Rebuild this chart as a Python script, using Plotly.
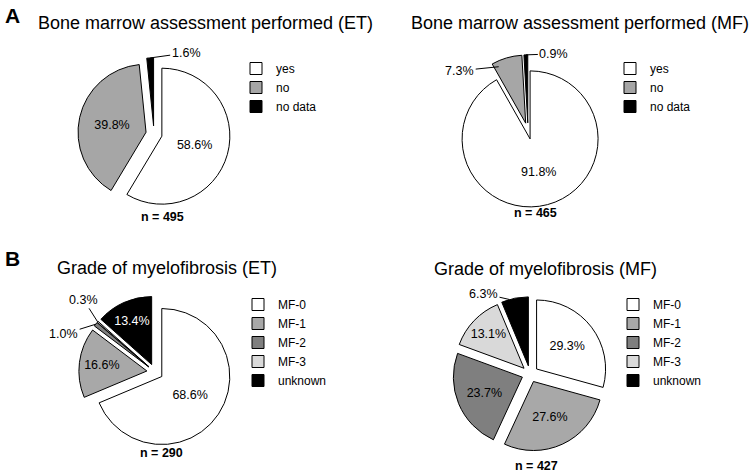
import math
import plotly.graph_objects as go

# ---------------- data ----------------
bm_labels = ["yes", "no", "no data"]
bm_et_values = [58.6, 39.8, 1.6]
bm_mf_values = [91.8, 7.3, 0.9]

grade_labels = ["MF-0", "MF-1", "MF-2", "MF-3", "unknown"]
grade_et_values = [68.6, 16.6, 1.0, 0.3, 13.4]
grade_mf_values = [29.3, 27.6, 23.7, 13.1, 6.3]

titles = ["Bone marrow assessment performed (ET)",
          "Bone marrow assessment performed (MF)",
          "Grade of myelofibrosis (ET)",
          "Grade of myelofibrosis (MF)"]
n_values = [495, 465, 290, 427]
panel_letters = ["A", "B"]

bm_colors = ["#ffffff", "#a6a6a6", "#000000"]
grade_colors = ["#ffffff", "#a8a8a8", "#7f7f7f", "#d9d9d9", "#000000"]

# ---------------- layout helpers ----------------
W, H = 749, 473
FONT = "Liberation Sans, Arial, sans-serif"
PULL = 0.12
ROW = 19  # plotly legend row height


def fx(x):
    return x / W


def fy(y):
    return 1 - y / H


# per-pie placement (pixels): centre, radius, title pos, n pos, legend pos
# outside: index -> (anchor position in slice fraction, radius factor, text dx, text dy)
pies = [
    dict(labels=bm_labels, values=bm_et_values, colors=bm_colors,
         cx=154, cy=134, r=68, title=(205, 23), n=(162, 217),
         legend=(250, 85), outside={2: (0.5, 1.0, 36, -5)}),
    dict(labels=bm_labels, values=bm_mf_values, colors=bm_colors,
         cx=528, cy=131, r=68, title=(580, 23), n=(535, 213),
         legend=(624, 85), outside={2: (0.5, 1.0, 28, -1),
                                    1: (0.15, 0.92, -39, 4)}),
    dict(labels=grade_labels, values=grade_et_values, colors=grade_colors,
         cx=155, cy=372, r=68, title=(167, 268), n=(161, 453),
         legend=(252, 340), outside={2: (0.5, 1.0, -32, 10),
                                     3: (0.5, 1.0, -14, -22)}),
    dict(labels=grade_labels, values=grade_mf_values, colors=grade_colors,
         cx=530, cy=374, r=69, title=(545, 269), n=(536, 466),
         legend=(627, 340), outside={4: (0.3, 1.0, -26, -6)}),
]

fig = go.Figure()
annotations = []
legends = {}

for i, p in enumerate(pies):
    vals = p["values"]
    total = sum(vals)
    S = 2 * p["r"] * (1 + PULL)
    dom_x = [fx(p["cx"] - S / 2), fx(p["cx"] + S / 2)]
    dom_y = [fy(p["cy"] + S / 2), fy(p["cy"] - S / 2)]
    texts = ["" if k in p["outside"] else f"{v:.1f}%" for k, v in enumerate(vals)]
    txtcol = ["#ffffff" if c == "#000000" else "#000000" for c in p["colors"]]
    lg = "legend" if i == 0 else f"legend{i + 1}"
    # pies sharing label names would share one legend entry; keep them distinct
    labels = [lab + "\u200b" * (i % 2) for lab in p["labels"]]
    fig.add_trace(go.Pie(
        labels=labels, values=vals, sort=False, direction="clockwise",
        rotation=0, pull=PULL, text=texts, textinfo="text",
        textposition="inside", insidetextorientation="horizontal",
        insidetextfont=dict(family=FONT, size=12.5, color=txtcol),
        marker=dict(colors=p["colors"], line=dict(color="#000000", width=1)),
        domain=dict(x=dom_x, y=dom_y), hoverinfo="label+value",
        legend=lg, showlegend=True,
    ))
    nrows = len(vals)
    top = p["legend"][1] - (nrows - 1) * ROW / 2 - 12
    legends[lg] = dict(
        x=fx(p["legend"][0] - 14), y=fy(top),
        xanchor="left", yanchor="top", bgcolor="rgba(0,0,0,0)",
        font=dict(family=FONT, size=12, color="#000000"),
        traceorder="normal", tracegroupgap=0,
    )
    # outside labels with leader lines, positioned from the data
    cum = 0.0
    for k, v in enumerate(vals):
        if k in p["outside"]:
            frac_in, rf, dx, dy = p["outside"][k]
            mid = 2 * math.pi * (cum + v / 2) / total
            th = 2 * math.pi * (cum + v * frac_in) / total
            pcx = p["cx"] + PULL * p["r"] * math.sin(mid)
            pcy = p["cy"] - PULL * p["r"] * math.cos(mid)
            axp = pcx + rf * p["r"] * math.sin(th)
            ayp = pcy - rf * p["r"] * math.cos(th)
            annotations.append(dict(
                x=fx(axp), y=fy(ayp), xref="paper", yref="paper",
                text=f"{v:.1f}%", showarrow=True, arrowhead=0,
                arrowwidth=1, arrowcolor="#000000", standoff=0,
                ax=dx, ay=dy, font=dict(family=FONT, size=12.5, color="#000000"),
            ))
        cum += v
    # title
    annotations.append(dict(
        x=fx(p["title"][0]), y=fy(p["title"][1]), xref="paper", yref="paper",
        text=titles[i], showarrow=False, xanchor="center", yanchor="middle",
        font=dict(family=FONT, size=18, color="#000000")))
    annotations.append(dict(
        x=fx(p["n"][0]), y=fy(p["n"][1]), xref="paper", yref="paper",
        text=f"<b>n = {n_values[i]}</b>", showarrow=False,
        xanchor="center", yanchor="middle",
        font=dict(family=FONT, size=12.5, color="#000000")))

for letter, (lx, ly) in zip(panel_letters, [(12, 15), (12, 258)]):
    annotations.append(dict(
        x=fx(lx), y=fy(ly), xref="paper", yref="paper", text=f"<b>{letter}</b>",
        showarrow=False, xanchor="center", yanchor="middle",
        font=dict(family=FONT, size=21, color="#000000")))

fig.update_layout(
    width=W, height=H, margin=dict(l=0, r=0, t=0, b=0),
    paper_bgcolor="#ffffff", plot_bgcolor="#ffffff",
    annotations=annotations, **legends,
)

fig.write_html("out.html", config={"displayModeBar": False},
               post_script="document.body.style.margin='0';document.body.style.overflow='hidden';")
